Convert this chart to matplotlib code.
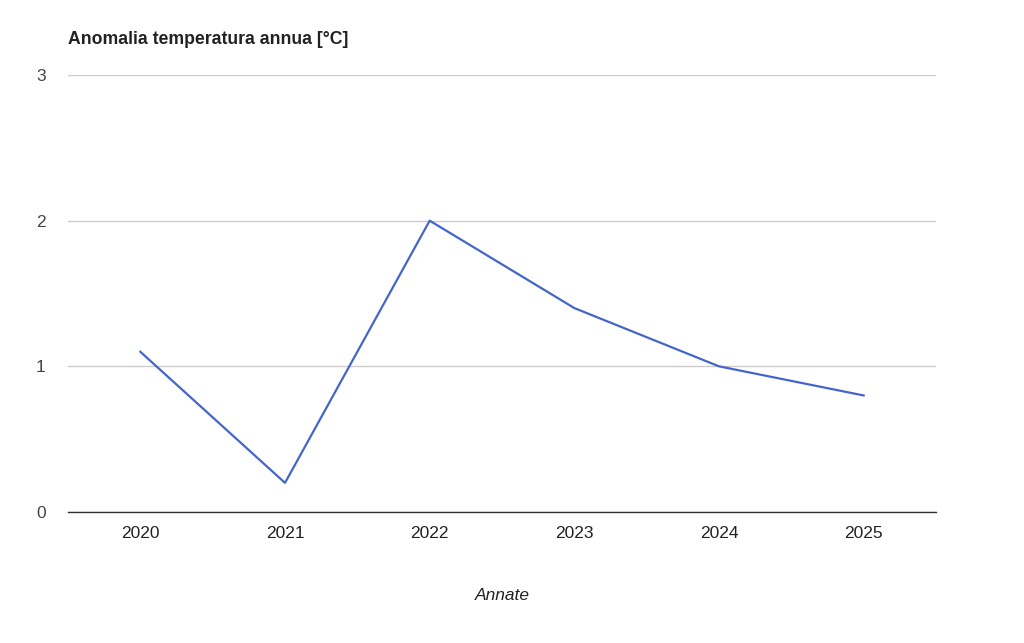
import matplotlib.pyplot as plt

plt.rcParams['font.family'] = ['Liberation Sans', 'DejaVu Sans']

years = ["2020", "2021", "2022", "2023", "2024", "2025"]
anomaly = [1.1, 0.2, 2.0, 1.4, 1.0, 0.8]

fig = plt.figure(figsize=(10.24, 6.43), dpi=100)
ax = fig.add_axes([68 / 1024, 131 / 643, 868 / 1024, 437 / 643])

x = list(range(len(years)))
ax.plot(x, anomaly, color="#4466cc", linewidth=1.6)

ax.set_xlim(-0.5, len(years) - 0.5)
ax.set_ylim(0, 3)
ax.set_yticks([0, 1, 2, 3])
ax.set_xticks(x)
ax.set_xticklabels(years)
ax.grid(axis="y", color="#cccccc", linewidth=1)
ax.set_axisbelow(True)
for side in ["top", "right", "left"]:
  ax.spines[side].set_visible(False)
ax.spines["bottom"].set_color("#333333")
ax.spines["bottom"].set_linewidth(1)
ax.tick_params(axis="both", length=0, labelsize=12.5, colors="#222222")
ax.tick_params(axis="x", pad=10)
ax.tick_params(axis="y", pad=16)
for lbl in ax.get_yticklabels():
  lbl.set_color("#444444")

fig.text(68 / 1024, 1 - 40 / 643, "Anomalia temperatura annua [°C]", fontsize=12.7,
     fontweight="bold", color="#222222", va="center", ha="left")
fig.text(502 / 1024, 1 - 595 / 643, "Annate", fontsize=12.5, style="italic",
     color="#222222", va="center", ha="center")

plt.savefig("out.png", dpi=100)
